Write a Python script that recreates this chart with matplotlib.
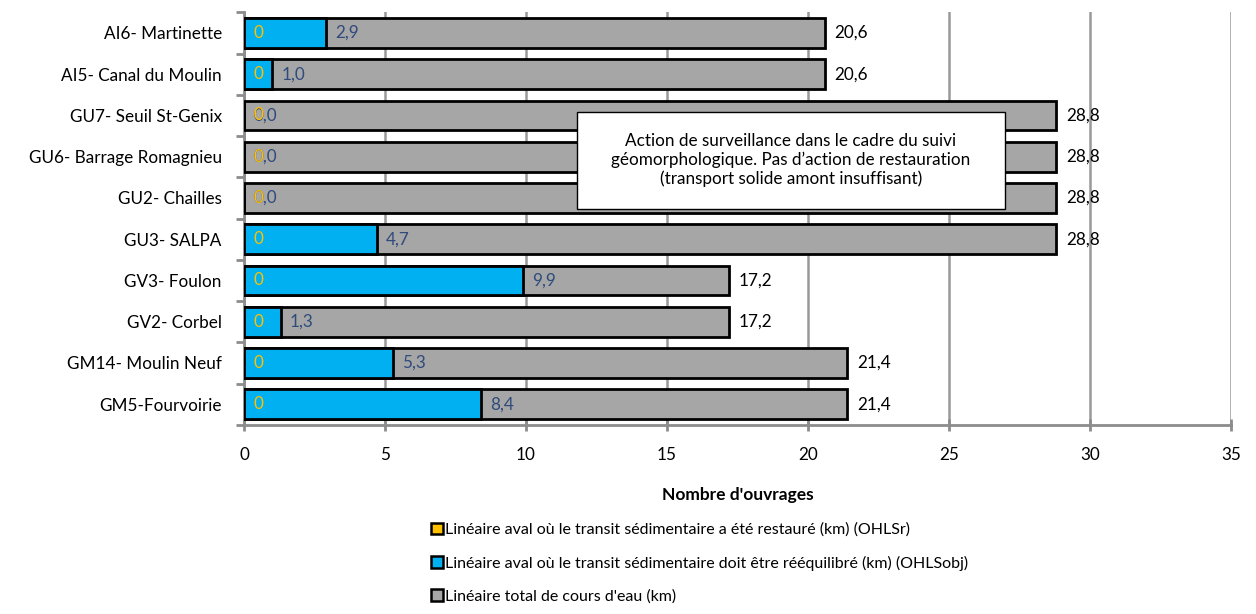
import numpy as np
import matplotlib.pyplot as plt
from matplotlib.patches import Patch, Rectangle

plt.rcParams['font.family'] = ['Lato', 'DejaVu Sans']

# donnees (de haut en bas comme sur le graphique)
ouvrages = ['AI6- Martinette', 'AI5- Canal du Moulin', 'GU7- Seuil St-Genix',
            'GU6- Barrage Romagnieu', 'GU2- Chailles', 'GU3- SALPA', 'GV3- Foulon',
            'GV2- Corbel', 'GM14- Moulin Neuf', 'GM5-Fourvoirie']
total = [20.6, 20.6, 28.8, 28.8, 28.8, 28.8, 17.2, 17.2, 21.4, 21.4]
objectif = [2.9, 1.0, 0.0, 0.0, 0.0, 4.7, 9.9, 1.3, 5.3, 8.4]
restaure = [0, 0, 0, 0, 0, 0, 0, 0, 0, 0]

leg_labels = ["Linéaire aval où le transit sédimentaire a été restauré (km) (OHLSr)",
              "Linéaire aval où le transit sédimentaire doit être rééquilibré (km) (OHLSobj)",
              "Linéaire total de cours d'eau (km)"]
note = "Action de surveillance dans le cadre du suivi\ngéomorphologique. Pas d\u2019action de restauration\n(transport solide amont insuffisant)"

c_gris = '#A6A6A6'
c_bleu = '#00B0F0'
c_jaune = '#FFC000'
c_lab_bleu = '#2F4B7C'
fs = 12.3

fig = plt.figure(figsize=(12.56, 6.14), dpi=100)
ax = fig.add_axes([0.1943, 0.308, 0.7857, 0.672])

n = len(ouvrages)
y = np.arange(n)[::-1]
h = 0.72

ax.barh(y, total, height=h, color=c_gris, edgecolor='black', linewidth=2, zorder=3)
ax.barh(y, objectif, height=h, color=c_bleu, edgecolor='black', linewidth=2, zorder=4)
ax.barh(y, restaure, height=h, color=c_jaune, edgecolor='black', linewidth=0, zorder=5)

def fmt(v):
    return ('%.1f' % v).replace('.', ',')

for yi, t, o, r in zip(y, total, objectif, restaure):
    ax.annotate(fmt(t), (t, yi), xytext=(7, 0), textcoords='offset points',
                ha='left', va='center', fontsize=fs, color='black', zorder=6)
    ax.annotate(fmt(o), (o, yi), xytext=(6.5, 0), textcoords='offset points',
                ha='left', va='center', fontsize=fs, color=c_lab_bleu, zorder=6)
    ax.annotate('%d' % r, (r, yi), xytext=(7, 0), textcoords='offset points',
                ha='left', va='center', fontsize=fs, color=c_jaune, zorder=7)

ax.set_xlim(0, 35)
ax.set_ylim(-0.5, n - 0.5)
ax.set_xticks(np.arange(0, 36, 5))
ax.set_yticks(y)
ax.set_yticklabels(ouvrages, fontsize=fs)
ax.set_yticks(np.arange(-0.5, n, 1), minor=True)
ax.tick_params(axis='y', which='major', length=0, pad=16)
ax.tick_params(axis='y', which='minor', length=6, width=2, color='#8C8C8C', direction='out')
ax.tick_params(axis='x', length=8, width=2, color='#8C8C8C', direction='inout', pad=12, labelsize=fs)

ax.grid(axis='x', color='#999999', linewidth=1.8, zorder=0)
for s in ['top', 'right']:
    ax.spines[s].set_visible(False)
for s in ['left', 'bottom']:
    ax.spines[s].set_color('#8C8C8C')
    ax.spines[s].set_linewidth(2)

ax.set_xlabel("Nombre d'ouvrages", fontsize=12.5, fontweight='bold', labelpad=17)

# encadre de commentaire
ax.add_patch(Rectangle((11.8, 4.74), 15.2, 2.34, facecolor='white', edgecolor='black',
                       linewidth=1, zorder=8))
ax.text(19.4, 5.92, note, ha='center', va='center', fontsize=fs, linespacing=1.2, zorder=9)

handles = [Patch(facecolor=c_jaune, edgecolor='black', linewidth=1.8),
           Patch(facecolor=c_bleu, edgecolor='black', linewidth=1.8),
           Patch(facecolor=c_gris, edgecolor='black', linewidth=1.8)]
fig.legend(handles, leg_labels, loc='upper left', bbox_to_anchor=(0.343, 0.149),
           frameon=False, fontsize=11.5, handlelength=0.75, handleheight=0.75,
           handletextpad=0.15, labelspacing=1.17, borderaxespad=0, borderpad=0)

fig.savefig('out.png', dpi=100)
